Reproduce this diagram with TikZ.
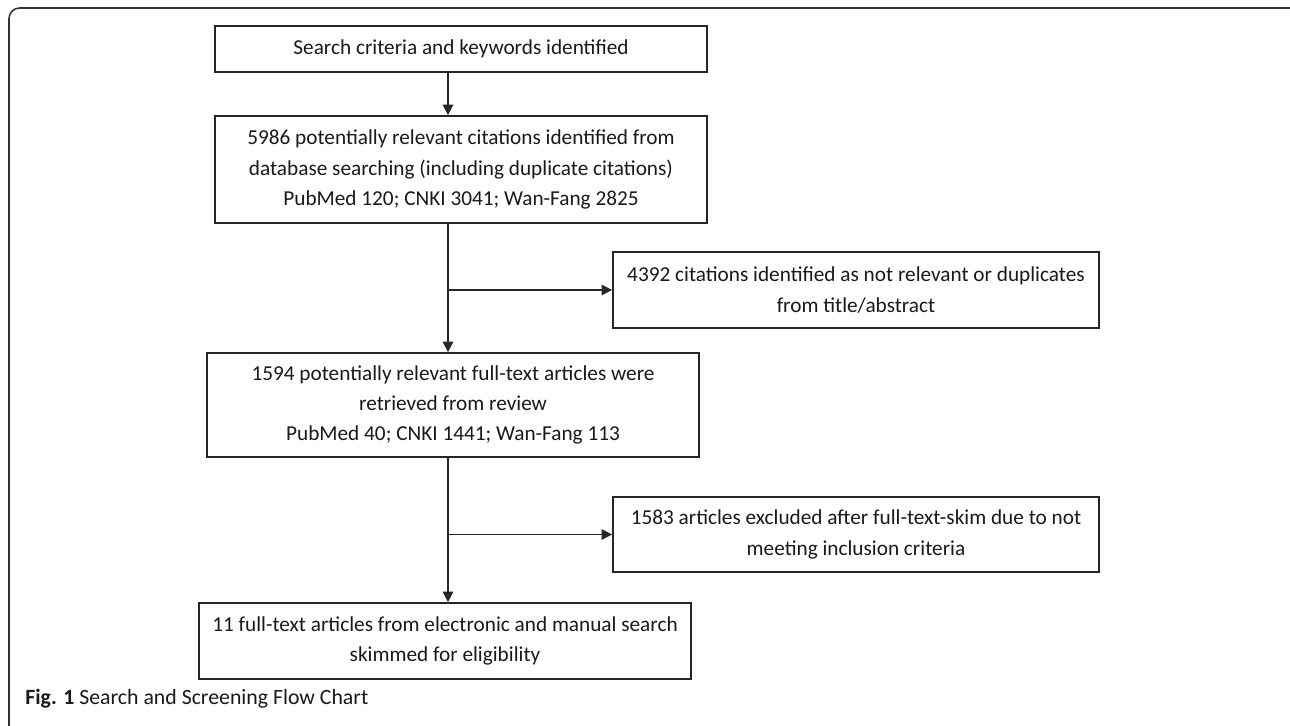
\documentclass[tikz,border=0pt]{standalone}
\usepackage{fontspec}
\setmainfont{Carlito}
\usetikzlibrary{arrows.meta}
\tikzset{
  stagebox/.style={draw=black!85,line width=1pt,minimum width={492*0.02cm},minimum height={#1*0.02cm},
    align=center,inner sep=0pt,font=\fontsize{12.1}{17.2}\selectfont,text=black!90},
  sidebox/.style={stagebox=#1,minimum width={486*0.02cm}},
  flowarrow/.style={draw=black!85,line width=0.8pt,-{Triangle[length=6pt,width=6pt]}}
}
\begin{document}
\begin{tikzpicture}[x=0.02cm,y=-0.02cm]
\clip (0,0) rectangle (1290,726);
\draw[black!80,line width=0.9pt,rounded corners=6pt] (9,8) rectangle (1310,745);

\node[stagebox=46] (search) at (461,49) {Search criteria and keywords identified};
\node[stagebox=107] (found) at (461,169.5) {5986 potentially relevant citations identified from\\database searching (including duplicate citations)\\PubMed 120; CNKI 3041; Wan-Fang 2825};
\node[sidebox=76] (dropA) at (856,290) {4392 citations identified as not relevant or duplicates\\from title/abstract};
\node[stagebox=104] (fulltext) at (453,405) {1594 potentially relevant full-text articles were\\retrieved from review\\PubMed 40; CNKI 1441; Wan-Fang 113};
\node[sidebox=75] (dropB) at (856,534.5) {1583 articles excluded after full-text-skim due to not\\meeting inclusion criteria};
\node[stagebox=76] (kept) at (445,641) {11 full-text articles from electronic and manual search\\skimmed for eligibility};

\coordinate (trunk) at (448,0);
\draw[flowarrow] (search.south -| trunk) -- (found.north -| trunk);
\draw[flowarrow] (found.south -| trunk) -- (fulltext.north -| trunk);
\draw[flowarrow] (fulltext.south -| trunk) -- (kept.north -| trunk);
\draw[flowarrow] (dropA.west -| trunk) -- (dropA.west);
\draw[flowarrow] (dropB.west -| trunk) -- (dropB.west);

\node[anchor=base west,inner sep=0pt,font=\fontsize{12.4}{14}\selectfont,text=black!90] (caption) at (25,704) {\textbf{Fig. 1} Search and Screening Flow Chart};
\end{tikzpicture}
\end{document}
